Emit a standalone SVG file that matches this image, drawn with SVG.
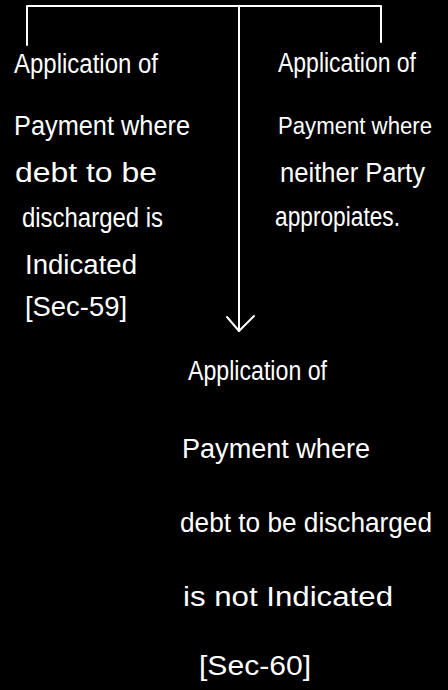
<svg xmlns="http://www.w3.org/2000/svg" width="448" height="690" viewBox="0 0 448 690">
<style>
.t{font-family:"Liberation Sans",Arial,sans-serif;font-size:27px;fill:#fff}
.s{font-size:23px}
.c{stroke:#fff;stroke-width:2;fill:none;stroke-linecap:round;stroke-linejoin:round}
</style>
<rect width="448" height="690" fill="#000"/>
<g id="connectors" class="c">
<path d="M27,45 V6 H381 V42"/>
<path d="M239,6 V331"/>
<path d="M227,317 L239,331 L254,316"/>
</g>
<g id="node-left">
<text class="t" x="14" y="73" textLength="144" lengthAdjust="spacingAndGlyphs">Application of</text>
<text class="t" x="14" y="135" textLength="176" lengthAdjust="spacingAndGlyphs">Payment where</text>
<text class="t" x="15" y="182" textLength="142" lengthAdjust="spacingAndGlyphs">debt to be</text>
<text class="t" x="22" y="227" textLength="141" lengthAdjust="spacingAndGlyphs">discharged is</text>
<text class="t" x="25" y="274" textLength="112" lengthAdjust="spacingAndGlyphs">Indicated</text>
<text class="t" x="25" y="316" textLength="102" lengthAdjust="spacingAndGlyphs">[Sec-59]</text>
</g>
<g id="node-right">
<text class="t" x="278" y="72" textLength="138" lengthAdjust="spacingAndGlyphs">Application of</text>
<text class="t s" x="278" y="134" textLength="154" lengthAdjust="spacingAndGlyphs">Payment where</text>
<text class="t" x="280" y="182" textLength="145" lengthAdjust="spacingAndGlyphs">neither Party</text>
<text class="t" x="275" y="226" textLength="125" lengthAdjust="spacingAndGlyphs">appropiates.</text>
</g>
<g id="node-bottom">
<text class="t" x="188" y="380" textLength="139" lengthAdjust="spacingAndGlyphs">Application of</text>
<text class="t" x="182" y="458" textLength="188" lengthAdjust="spacingAndGlyphs">Payment where</text>
<text class="t" x="180" y="532" textLength="252" lengthAdjust="spacingAndGlyphs">debt to be discharged</text>
<text class="t" x="183" y="606" textLength="210" lengthAdjust="spacingAndGlyphs">is not Indicated</text>
<text class="t" x="199" y="675" textLength="112" lengthAdjust="spacingAndGlyphs">[Sec-60]</text>
</g>
</svg>
